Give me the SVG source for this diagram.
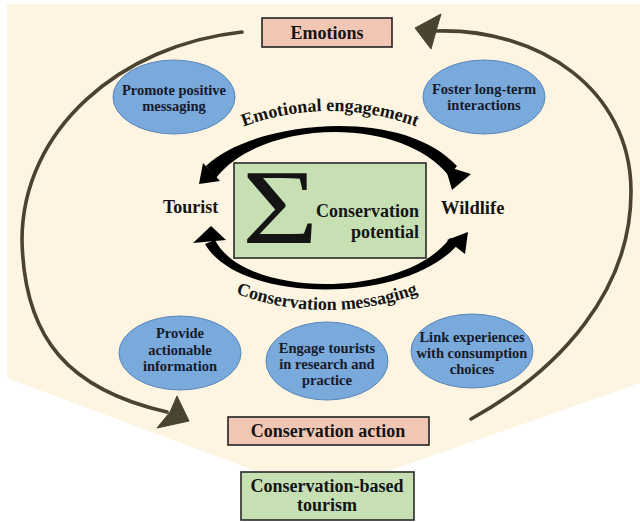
<svg xmlns="http://www.w3.org/2000/svg" width="640" height="522" viewBox="0 0 640 522">
<style>
text{font-family:"Liberation Serif","Times New Roman",serif;font-weight:bold;fill:#141414}
.ell{fill:#79aadb;stroke:#5a86b8;stroke-width:1}
.et{font-size:14.5px;text-anchor:middle;fill:#16192a}
.pink{fill:#f2c6b4;stroke:#222;stroke-width:1.6}
.green{fill:#c6e0b4;stroke:#2a2a2a;stroke-width:1.6}
.bt{font-size:18px;text-anchor:middle}
.brown{fill:none;stroke:#4a4330;stroke-width:3.6;stroke-linecap:round}
.bhead{fill:#4a4330;stroke:#4a4330;stroke-width:1;stroke-linejoin:round}
.blk{fill:#000}
.curve{font-size:18px}
</style>
<defs>
<path id="arcTop" d="M 83,358 A 247,247 0 0 1 577,358"/>
<path id="arcBot" d="M 67,50 A 260,260 0 0 0 587,50"/>
</defs>
<polygon id="background" points="7,4 640,4 640,383 320,495 7,378" fill="#fdf5e2"/>

<g id="connectors">
<path class="brown" d="M 242,32 C 120,45 22,130 22,240 C 24,340 70,390 167,412"/>
<polygon class="bhead" points="189,421 177,396 170,412 157,428"/>
<path class="brown" d="M 471,419 C 560,370 632,290 631,190 C 630,90 540,28 436,31"/>
<polygon class="bhead" points="415,28 441,14 436,31 431,49"/>
<path class="blk" d="M 206,166 C 250,122 400,104 457,166 L 449,176 C 400,114 260,120 216,178 Z"/>
<polygon class="blk" points="199,184 220,181 203,163"/>
<polygon class="blk" points="452,190 471,174 445,166"/>
<path class="blk" d="M 205,244 C 240,305 410,305 460,242 L 450,238 C 405,299 245,299 215,240 Z"/>
<polygon class="blk" points="211,226 193,243 226,240"/>
<polygon class="blk" points="468,232 465,254 447,240"/>
<text class="curve"><textPath href="#arcTop" startOffset="50%" text-anchor="middle">Emotional engagement</textPath></text>
<text class="curve"><textPath href="#arcBot" startOffset="50%" text-anchor="middle">Conservation messaging</textPath></text>
</g>

<g id="emotions">
<rect class="pink" x="262" y="18" width="130" height="29"/>
<text class="bt" x="327" y="39">Emotions</text>
</g>

<g id="promote">
<ellipse class="ell" cx="174" cy="97" rx="61" ry="37"/>
<text class="et" x="174" y="95">Promote positive</text>
<text class="et" x="174" y="111">messaging</text>
</g>

<g id="foster">
<ellipse class="ell" cx="484" cy="97" rx="61" ry="37"/>
<text class="et" x="484" y="94">Foster long-term</text>
<text class="et" x="484" y="110">interactions</text>
</g>

<g id="tourist">
<text x="163" y="213" style="font-size:18px">Tourist</text>
</g>

<g id="wildlife">
<text x="441" y="214" style="font-size:18.5px">Wildlife</text>
</g>

<g id="potential">
<rect class="green" x="234" y="163" width="192" height="95"/>
<text transform="translate(242,243) scale(1.25,1)" x="0" y="0" style="font-size:105px;font-weight:normal">Σ</text>
<text x="419" y="217" style="font-size:18px;text-anchor:end">Conservation</text>
<text x="419" y="238" style="font-size:18px;text-anchor:end">potential</text>
</g>

<g id="provide">
<ellipse class="ell" cx="180" cy="353" rx="61" ry="37"/>
<text class="et" x="180" y="338">Provide</text>
<text class="et" x="180" y="355">actionable</text>
<text class="et" x="180" y="371">information</text>
</g>

<g id="engage">
<ellipse class="ell" cx="327" cy="361" rx="61" ry="39"/>
<text class="et" x="327" y="353">Engage tourists</text>
<text class="et" x="327" y="369">in research and</text>
<text class="et" x="327" y="385">practice</text>
</g>

<g id="link">
<ellipse class="ell" cx="472" cy="351" rx="61" ry="37"/>
<text class="et" x="472" y="342">Link experiences</text>
<text class="et" x="472" y="358">with consumption</text>
<text class="et" x="472" y="374">choices</text>
</g>

<g id="action">
<rect class="pink" x="228" y="417" width="201" height="28"/>
<text class="bt" x="328" y="437">Conservation action</text>
</g>

<g id="cbt">
<rect class="green" x="241" y="472" width="173" height="48"/>
<text class="bt" x="327" y="492">Conservation-based</text>
<text class="bt" x="327" y="511">tourism</text>
</g>
</svg>
